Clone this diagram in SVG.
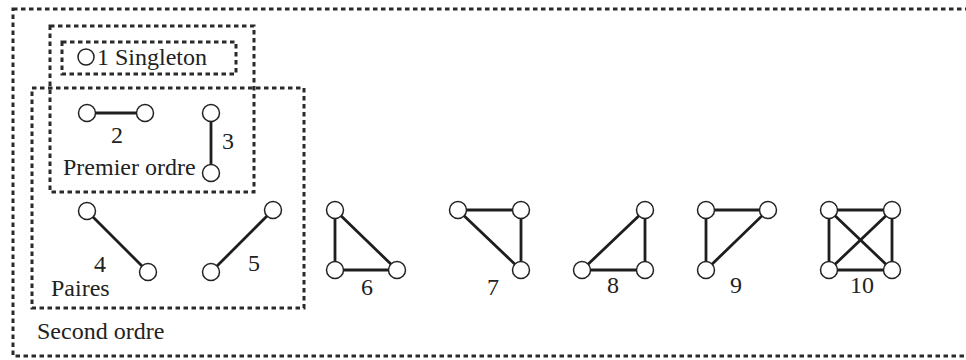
<svg xmlns="http://www.w3.org/2000/svg" width="966" height="360" viewBox="0 0 966 360">
  <style>
    .frame { fill: none; stroke: #2a2a2a; stroke-width: 3; stroke-dasharray: 4.5 3.5; }
    .v { fill: #fff; stroke: #222; stroke-width: 1.5; }
    .e { stroke: #1e1e1e; stroke-width: 2.8; stroke-linecap: round; }
    text { font-family: "Liberation Serif", "Times New Roman", serif; font-size: 24px; fill: #222; }
    .num { text-anchor: middle; }
  </style>
  <rect width="966" height="360" fill="#fff"/>

  <!-- grouping frames -->
  <g id="frames">
    <rect id="second-ordre" class="frame" x="13" y="9" width="970" height="347"/>
    <rect id="premier-ordre" class="frame" x="50" y="26" width="204" height="166"/>
    <rect id="singleton-box" class="frame" x="62" y="42" width="174" height="32"/>
    <rect id="paires" class="frame" x="32" y="88" width="272" height="220"/>
  </g>

  <!-- connectors -->
  <g id="connectors">
    <line class="e" x1="87" y1="113" x2="145" y2="113"/>
    <line class="e" x1="211" y1="113" x2="211" y2="173"/>
    <line class="e" x1="87" y1="211" x2="148" y2="272"/>
    <line class="e" x1="211" y1="272" x2="273" y2="210"/>
    <line class="e" x1="335" y1="210" x2="335" y2="270"/>
    <line class="e" x1="335" y1="210" x2="397" y2="270"/>
    <line class="e" x1="335" y1="270" x2="397" y2="270"/>
    <line class="e" x1="458" y1="210" x2="521" y2="210"/>
    <line class="e" x1="458" y1="210" x2="521" y2="270"/>
    <line class="e" x1="521" y1="210" x2="521" y2="270"/>
    <line class="e" x1="582" y1="270" x2="645" y2="210"/>
    <line class="e" x1="582" y1="270" x2="645" y2="270"/>
    <line class="e" x1="645" y1="210" x2="645" y2="270"/>
    <line class="e" x1="706" y1="210" x2="768" y2="210"/>
    <line class="e" x1="706" y1="210" x2="706" y2="270"/>
    <line class="e" x1="768" y1="210" x2="706" y2="270"/>
    <line class="e" x1="829" y1="210" x2="892" y2="210"/>
    <line class="e" x1="829" y1="270" x2="892" y2="270"/>
    <line class="e" x1="829" y1="210" x2="829" y2="270"/>
    <line class="e" x1="892" y1="210" x2="892" y2="270"/>
    <line class="e" x1="829" y1="210" x2="892" y2="270"/>
    <line class="e" x1="892" y1="210" x2="829" y2="270"/>
  </g>

  <!-- motif 1: singleton -->
  <g id="n1">
    <circle class="v" cx="86" cy="57" r="8"/>
    <text x="97" y="65">1 Singleton</text>
  </g>

  <!-- motif 2 -->
  <g id="n2">
    <circle class="v" cx="87" cy="113" r="8.5"/>
    <circle class="v" cx="145" cy="113" r="8.5"/>
    <text class="num" x="117" y="143">2</text>
  </g>

  <!-- motif 3 -->
  <g id="n3">
    <circle class="v" cx="211" cy="113" r="8.5"/>
    <circle class="v" cx="211" cy="173" r="8.5"/>
    <text class="num" x="228" y="149">3</text>
  </g>

  <g id="label-premier">
    <text x="63" y="175">Premier ordre</text>
  </g>

  <!-- motif 4 -->
  <g id="n4">
    <circle class="v" cx="87" cy="211" r="8.5"/>
    <circle class="v" cx="148" cy="272" r="8.5"/>
    <text class="num" x="100" y="272">4</text>
  </g>

  <!-- motif 5 -->
  <g id="n5">
    <circle class="v" cx="211" cy="272" r="8.5"/>
    <circle class="v" cx="273" cy="210" r="8.5"/>
    <text class="num" x="254" y="271">5</text>
  </g>

  <g id="label-paires">
    <text x="51" y="296">Paires</text>
  </g>

  <!-- motif 6 -->
  <g id="n6">
    <circle class="v" cx="335" cy="210" r="8.5"/>
    <circle class="v" cx="335" cy="270" r="8.5"/>
    <circle class="v" cx="397" cy="270" r="8.5"/>
    <text class="num" x="367" y="295">6</text>
  </g>

  <!-- motif 7 -->
  <g id="n7">
    <circle class="v" cx="458" cy="210" r="8.5"/>
    <circle class="v" cx="521" cy="210" r="8.5"/>
    <circle class="v" cx="521" cy="270" r="8.5"/>
    <text class="num" x="493" y="295">7</text>
  </g>

  <!-- motif 8 -->
  <g id="n8">
    <circle class="v" cx="582" cy="270" r="8.5"/>
    <circle class="v" cx="645" cy="210" r="8.5"/>
    <circle class="v" cx="645" cy="270" r="8.5"/>
    <text class="num" x="613" y="293">8</text>
  </g>

  <!-- motif 9 -->
  <g id="n9">
    <circle class="v" cx="706" cy="210" r="8.5"/>
    <circle class="v" cx="768" cy="210" r="8.5"/>
    <circle class="v" cx="706" cy="270" r="8.5"/>
    <text class="num" x="736" y="293">9</text>
  </g>

  <!-- motif 10 -->
  <g id="n10">
    <circle class="v" cx="829" cy="210" r="8.5"/>
    <circle class="v" cx="892" cy="210" r="8.5"/>
    <circle class="v" cx="829" cy="270" r="8.5"/>
    <circle class="v" cx="892" cy="270" r="8.5"/>
    <text class="num" x="862" y="293">10</text>
  </g>

  <g id="label-second">
    <text x="37" y="339">Second ordre</text>
  </g>
</svg>
